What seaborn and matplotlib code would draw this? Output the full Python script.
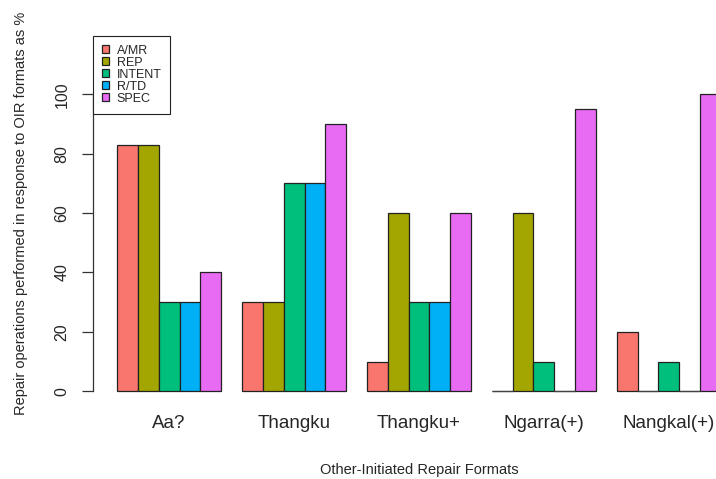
import matplotlib
matplotlib.use("Agg")
import matplotlib.pyplot as plt
import seaborn as sns
import pandas as pd

# --- data ---
formats = ["Aa?", "Thangku", "Thangku+", "Ngarra(+)", "Nangkal(+)"]
operations = ["A/MR", "REP", "INTENT", "R/TD", "SPEC"]
amr = [83, 30, 10, 0, 20]
rep = [83, 30, 60, 60, 0]
intent = [30, 70, 30, 10, 10]
rtd = [30, 70, 30, 0, 0]
spec = [40, 90, 60, 95, 100]
colors = ["#F8766D", "#A3A500", "#00BF7D", "#00B0F6", "#E76BF3"]

series = [amr, rep, intent, rtd, spec]
rows = []
for op, vals in zip(operations, series):
    for fmt, v in zip(formats, vals):
        rows.append({"format": fmt, "operation": op, "pct": v})
df = pd.DataFrame(rows)

sns.set_style("white")
plt.rcParams["font.family"] = ["Liberation Sans", "DejaVu Sans"]

fig = plt.figure(figsize=(7.16, 4.79), dpi=100)
# plot region in pixels: x 93..745 (cropped at 716), y 36..405
ax = fig.add_axes([93 / 716, 74 / 479, 652 / 716, 369 / 479])

sns.barplot(data=df, x="format", y="pct", hue="operation", order=formats,
            hue_order=operations, palette=colors, saturation=1, width=5 / 6,
            gap=0, edgecolor="#222222", linewidth=0.9, ax=ax)

# zero-height bars show up as a flat line on the baseline (like R does)
for p in list(ax.patches):
    if p.get_height() == 0 and p.get_width() > 0:
        x0 = p.get_x()
        ax.plot([x0, x0 + p.get_width()], [0, 0], color="#444444", lw=0.9,
                solid_capstyle="butt", zorder=3)

ax.set_xlim(-0.61, 4.61)
ax.set_ylim(-4.6, 119.6)

# R style axes: only left axis from 0 to 100
for s in ["top", "right", "bottom"]:
    ax.spines[s].set_visible(False)
ax.spines["left"].set_bounds(0, 100)
ax.spines["left"].set_color("#333333")
ax.spines["left"].set_linewidth(0.9)
ax.set_yticks([0, 20, 40, 60, 80, 100])
ax.tick_params(axis="y", length=8, width=0.9, color="#333333", pad=9,
               labelsize=11.5, left=True)
for lab in ax.get_yticklabels():
    lab.set_rotation(90)
    lab.set_va("center")
    lab.set_ha("right")
ax.tick_params(axis="x", length=0, pad=7, labelsize=13.5)

ax.set_xlabel("Other-Initiated Repair Formats", fontsize=10.5)
ax.set_ylabel("Repair operations performed in response to OIR formats as %", fontsize=10.5)
ax.xaxis.set_label_coords(0.5, -0.157)
ax.yaxis.set_label_coords(-0.099, 0.52)

handles, labels = ax.get_legend_handles_labels()
ax.legend(handles, labels, loc="upper left", bbox_to_anchor=(0, 1),
          borderaxespad=0, fontsize=9, handlelength=0.6, handleheight=0.6,
          handletextpad=0.6, labelspacing=0.0, borderpad=0.7,
          fancybox=False, framealpha=1, edgecolor="#222222")
ax.get_legend().get_frame().set_linewidth(0.8)

fig.savefig("out.png", dpi=100)
